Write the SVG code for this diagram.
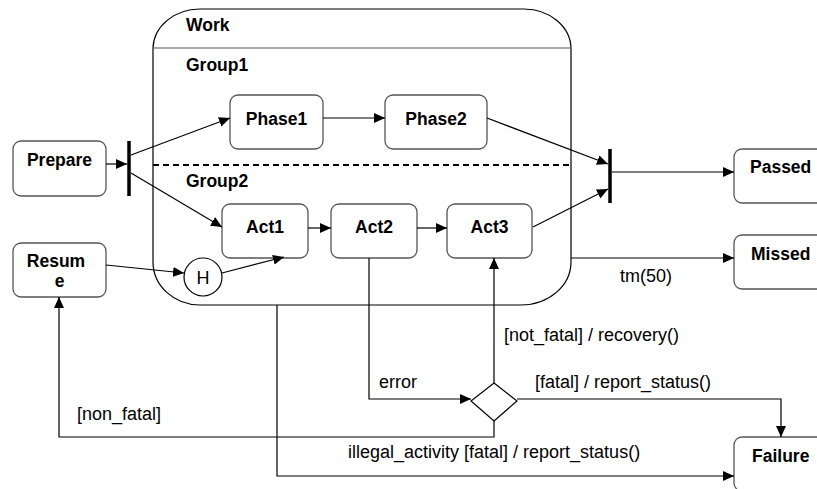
<svg xmlns="http://www.w3.org/2000/svg" width="817" height="489" viewBox="0 0 817 489">
<style>
.node{fill:#fff;stroke:#555;stroke-width:1.3}
.b{font-family:"Liberation Sans",Arial,sans-serif;font-weight:bold;font-size:17.5px;fill:#000}
.r{font-family:"Liberation Sans",Arial,sans-serif;font-size:18px;fill:#000}
.c{fill:none;stroke:#000;stroke-width:1.2}
.bar{stroke:#000;stroke-width:3.5}
</style>
<defs>
<marker id="ah" markerWidth="12" markerHeight="10" refX="11" refY="5" orient="auto" markerUnits="userSpaceOnUse">
<path d="M0,0 L11,5 L0,10 Z" fill="#000"/>
</marker>
</defs>
<rect width="817" height="489" fill="#fff"/>
<g id="Work">
<path d="M153,262 L153,48 A47,40 0 0 1 200,9 L524,9 A47,40 0 0 1 571,49 L571,262 A50,43 0 0 1 521,305 L200,305 A47,43 0 0 1 153,262 Z" fill="#fff" stroke="#000" stroke-width="1.2"/>
<line x1="153" y1="48" x2="571" y2="48" stroke="#555" stroke-width="1.2"/>
<line x1="153" y1="165" x2="571" y2="165" stroke="#000" stroke-width="2" stroke-dasharray="6,4"/>
<text class="b" x="186" y="31">Work</text>
<text class="b" x="186" y="71">Group1</text>
<text class="b" x="186" y="187">Group2</text>
</g>
<g id="Prepare"><rect class="node" x="13" y="141" width="93" height="55" rx="8"/><text class="b" x="59.5" y="166" text-anchor="middle">Prepare</text></g>
<g id="Resume"><rect class="node" x="13" y="243" width="93" height="54" rx="8"/><text class="b" x="56" y="267" text-anchor="middle">Resum</text><text class="b" x="59.5" y="287" text-anchor="middle">e</text></g>
<g id="Fork"><line class="bar" x1="129" y1="141" x2="129" y2="196"/></g>
<g id="Join"><line class="bar" x1="610" y1="149" x2="610" y2="203"/></g>
<g id="Phase1"><rect class="node" x="230" y="95" width="93" height="54" rx="8"/><text class="b" x="276.5" y="125" text-anchor="middle">Phase1</text></g>
<g id="Phase2"><rect class="node" x="385" y="95" width="102" height="54" rx="8"/><text class="b" x="436" y="125" text-anchor="middle">Phase2</text></g>
<g id="Act1"><rect class="node" x="222" y="204" width="86" height="54" rx="8"/><text class="b" x="265" y="233" text-anchor="middle">Act1</text></g>
<g id="Act2"><rect class="node" x="331" y="204" width="86" height="54" rx="8"/><text class="b" x="374" y="233" text-anchor="middle">Act2</text></g>
<g id="Act3"><rect class="node" x="447" y="204" width="85" height="54" rx="8"/><text class="b" x="489.5" y="233" text-anchor="middle">Act3</text></g>
<g id="History"><circle cx="203" cy="277" r="19" fill="#fff" stroke="#000" stroke-width="1.2"/><text class="r" x="203" y="283.5" text-anchor="middle">H</text></g>
<g id="Choice"><path d="M494,383 L517,401 L494,421 L471,401 Z" fill="#fff" stroke="#000" stroke-width="1.2"/></g>
<g id="Passed"><rect class="node" x="734" y="149" width="93" height="54" rx="8"/><text class="b" x="750" y="173">Passed</text></g>
<g id="Missed"><rect class="node" x="734" y="235" width="93" height="54" rx="8"/><text class="b" x="751" y="260">Missed</text></g>
<g id="Failure"><rect class="node" x="734" y="437" width="93" height="54" rx="8"/><text class="b" x="752" y="462">Failure</text></g>
<g id="connectors">
<line class="c" x1="106" y1="164" x2="127" y2="164" marker-end="url(#ah)"/>
<line class="c" x1="131" y1="155" x2="230" y2="118" marker-end="url(#ah)"/>
<line class="c" x1="131" y1="173" x2="222" y2="227" marker-end="url(#ah)"/>
<line class="c" x1="323" y1="118" x2="385" y2="118" marker-end="url(#ah)"/>
<line class="c" x1="487" y1="118" x2="608" y2="164" marker-end="url(#ah)"/>
<line class="c" x1="533" y1="227" x2="608" y2="189" marker-end="url(#ah)"/>
<line class="c" x1="612" y1="172" x2="734" y2="172" marker-end="url(#ah)"/>
<line class="c" x1="308" y1="228" x2="331" y2="228" marker-end="url(#ah)"/>
<line class="c" x1="417" y1="228" x2="447" y2="228" marker-end="url(#ah)"/>
<line class="c" x1="106" y1="265" x2="184" y2="273" marker-end="url(#ah)"/>
<line class="c" x1="222" y1="273" x2="284" y2="257" marker-end="url(#ah)"/>
<line class="c" x1="571" y1="258" x2="734" y2="258" marker-end="url(#ah)"/>
<polyline class="c" points="369,258 369,399 471,399" marker-end="url(#ah)"/>
<line class="c" x1="494" y1="383" x2="494" y2="258" marker-end="url(#ah)"/>
<polyline class="c" points="517,399 781,399 781,437" marker-end="url(#ah)"/>
<polyline class="c" points="494,421 494,437 59,437 59,297" marker-end="url(#ah)"/>
<polyline class="c" points="277,305 277,476 734,476" marker-end="url(#ah)"/>
<text class="r" x="620" y="282">tm(50)</text>
<text class="r" x="379" y="388">error</text>
<text class="r" x="504" y="341">[not_fatal] / recovery()</text>
<text class="r" x="535" y="388">[fatal] / report_status()</text>
<text class="r" x="77" y="420">[non_fatal]</text>
<text class="r" x="348" y="458">illegal_activity [fatal] / report_status()</text>
</g>
</svg>
